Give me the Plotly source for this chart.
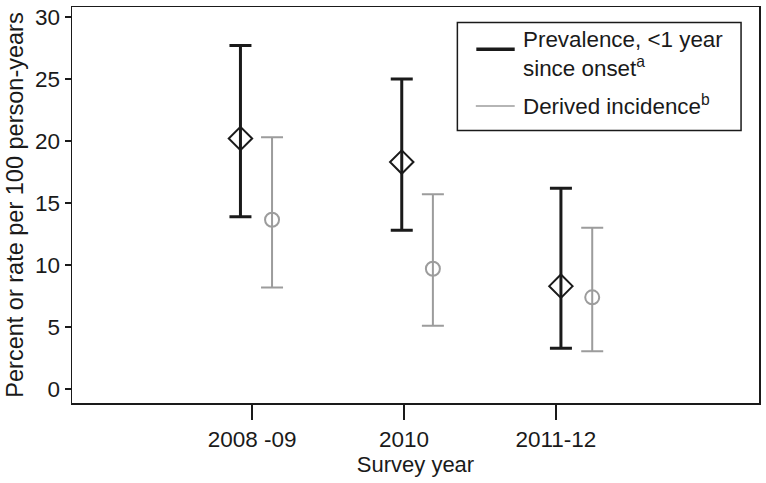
import plotly.graph_objects as go

# ---- data ----
survey_years = ["2008 -09", "2010", "2011-12"]

prev_est = [20.2, 18.3, 8.3]
prev_low = [13.9, 12.8, 3.3]
prev_high = [27.7, 25.0, 16.2]

inc_est = [13.65, 9.7, 7.4]
inc_low = [8.2, 5.1, 3.05]
inc_high = [20.3, 15.7, 13.0]

prev_dodge = [-0.077, -0.015, 0.033]
inc_dodge = [0.131, 0.19, 0.239]

legend_labels = ["Prevalence, <1 year<br>since onset<sup>a</sup>", "Derived incidence<sup>b</sup>"]

FONT = "Liberation Sans, Arial, sans-serif"
DARK = "#1a1a1a"
GRAY = "#9c9c9c"

W, H = 766, 483
ML, MR, MT, MB = 72, 5, 5, 80
PW, PH = W - ML - MR, H - MT - MB


def px(x):
    return (x - ML) / PW


def py(y):
    return (H - MB - y) / PH


idx = list(range(1, len(survey_years) + 1))

fig = go.Figure()

fig.add_trace(go.Scatter(
    x=[i + d for i, d in zip(idx, prev_dodge)],
    y=prev_est,
    mode="markers",
    marker=dict(symbol="diamond-open", size=18, color=DARK, line=dict(width=2, color=DARK)),
    error_y=dict(type="data", symmetric=False,
                 array=[h - e for h, e in zip(prev_high, prev_est)],
                 arrayminus=[e - l for e, l in zip(prev_est, prev_low)],
                 color=DARK, thickness=3, width=11),
    showlegend=False, hoverinfo="skip",
))

fig.add_trace(go.Scatter(
    x=[i + d for i, d in zip(idx, inc_dodge)],
    y=inc_est,
    mode="markers",
    marker=dict(symbol="circle-open", size=14, color=GRAY, line=dict(width=2, color=GRAY)),
    error_y=dict(type="data", symmetric=False,
                 array=[h - e for h, e in zip(inc_high, inc_est)],
                 arrayminus=[e - l for e, l in zip(inc_est, inc_low)],
                 color=GRAY, thickness=2, width=11),
    showlegend=False, hoverinfo="skip",
))

# ---- manual legend box ----
shapes = [
    dict(type="rect", xref="paper", yref="paper",
         x0=px(458.5), x1=px(743), y0=py(129), y1=py(20.5),
         line=dict(color=DARK, width=1.5), fillcolor="white", layer="above"),
    dict(type="line", xref="paper", yref="paper",
         x0=px(477.5), x1=px(516), y0=py(47.5), y1=py(47.5),
         line=dict(color=DARK, width=3.5), layer="above"),
    dict(type="line", xref="paper", yref="paper",
         x0=px(477), x1=px(516), y0=py(104.5), y1=py(104.5),
         line=dict(color=GRAY, width=1.5), layer="above"),
]

baselines = [76, 113.5]  # baseline of the last line of each entry
annotations = []
for lab, base in zip(legend_labels, baselines):
    annotations.append(dict(
        text=lab, xref="paper", yref="paper",
        x=px(522), y=py(base + 0.212 * 22.4 + 1),
        xanchor="left", yanchor="bottom", showarrow=False,
        font=dict(family=FONT, size=22.4, color=DARK), align="left",
    ))

fig.update_layout(
    width=W, height=H,
    margin=dict(l=ML, r=MR, t=MT, b=MB),
    paper_bgcolor="white", plot_bgcolor="white",
    font=dict(family=FONT, size=22, color=DARK),
    showlegend=False,
    shapes=shapes,
    annotations=annotations,
)

fig.update_xaxes(
    range=[-0.186, 4.337],
    tickmode="array", tickvals=idx, ticktext=survey_years,
    ticks="outside", ticklen=15, tickwidth=1.5, tickcolor=DARK,
    showline=True, linecolor=DARK, linewidth=1.5, mirror=True,
    showgrid=False, zeroline=False,
    tickfont=dict(size=22.5),
    title=dict(text="Survey year", standoff=6, font=dict(size=22)),
)
fig.update_yaxes(
    range=[-1.12, 30.8],
    tickmode="array", tickvals=[0, 5, 10, 15, 20, 25, 30],
    ticks="outside", ticklen=6, tickwidth=1.5, tickcolor=DARK,
    showline=True, linecolor=DARK, linewidth=1.5, mirror=True,
    showgrid=False, zeroline=False,
    tickfont=dict(size=22.5),
    title=dict(text="Percent or rate per 100 person-years", standoff=4, font=dict(size=23.5)),
)

fig.write_html("out.html", config={"displayModeBar": False, "staticPlot": True},
               post_script="document.body.style.margin='0';")
